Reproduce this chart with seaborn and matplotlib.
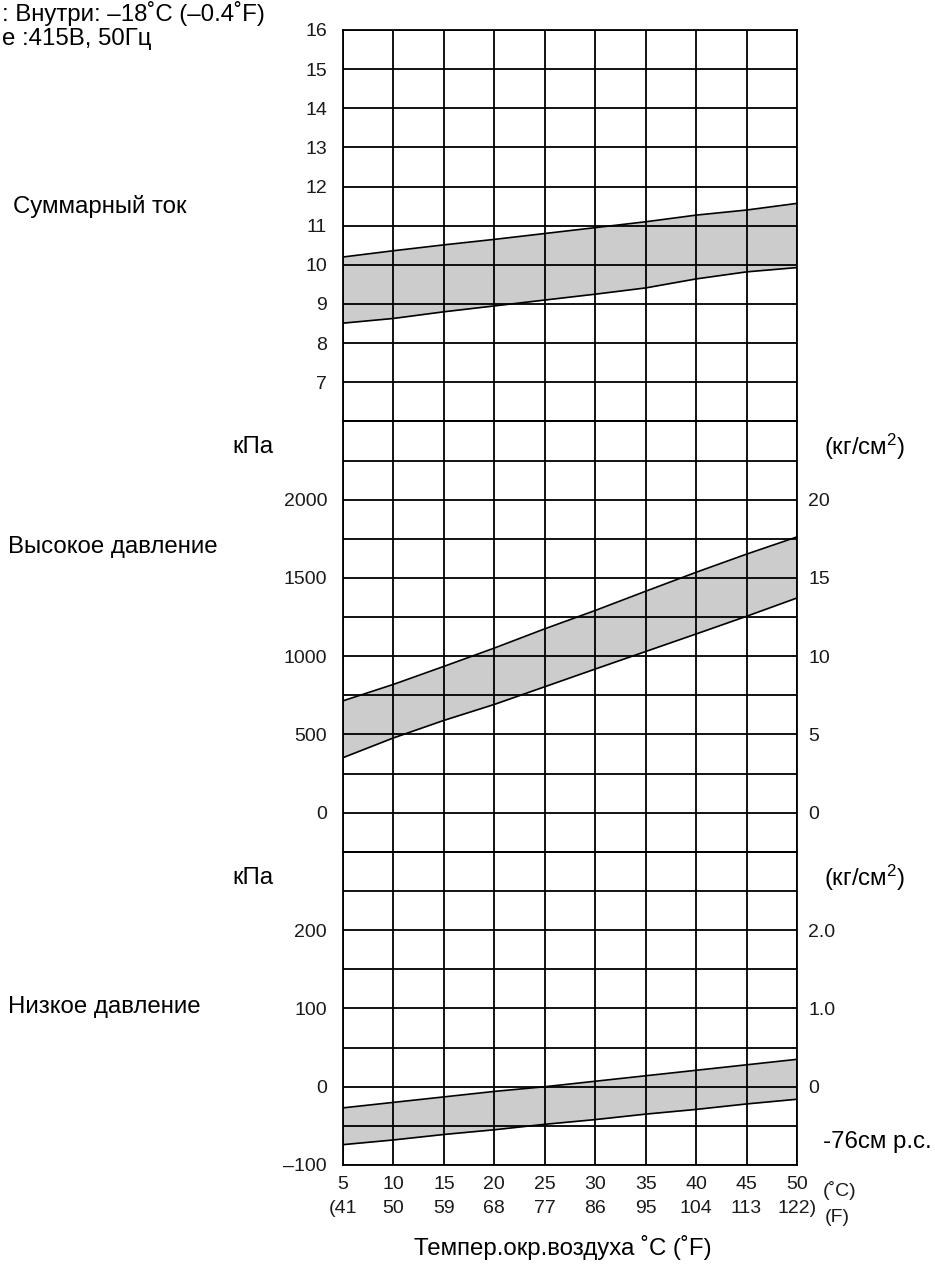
import numpy as np
import pandas as pd
import matplotlib
matplotlib.use("Agg")
import matplotlib.pyplot as plt
import seaborn as sns

# ---------------- data ----------------
temp_c = [5, 10, 15, 20, 25, 30, 35, 40, 45, 50]
temp_f = [41, 50, 59, 68, 77, 86, 95, 104, 113, 122]

current_upper = [10.2, 10.36, 10.51, 10.65, 10.8, 10.95, 11.1, 11.27, 11.4, 11.57]
current_lower = [8.51, 8.63, 8.8, 8.95, 9.1, 9.25, 9.41, 9.64, 9.82, 9.93]

hp_upper = [715, 820, 935, 1052, 1175, 1292, 1415, 1536, 1652, 1762]
hp_lower = [352, 478, 590, 692, 805, 918, 1030, 1142, 1255, 1372]

lp_upper = [-27, -20, -13, -6, 0, 7, 14, 21, 28, 35]
lp_lower = [-74, -68, -61, -55, -48, -42, -35, -29, -22, -16]

current_ticks = [7, 8, 9, 10, 11, 12, 13, 14, 15, 16]
hp_kpa_ticks = [0, 500, 1000, 1500, 2000]
hp_kgcm_labels = ["0", "5", "10", "15", "20"]
lp_kpa_ticks = [-100, 0, 100, 200]
lp_kpa_labels = ["\u2013100", "0", "100", "200"]
lp_kgcm_ticks = [0, 100, 200]
lp_kgcm_labels = ["0", "1.0", "2.0"]

title_lines = [": Внутри: \u201318\u02daC (\u20130.4\u02daF)", "е :415В, 50Гц"]
row_labels = ["Суммарный ток", "Высокое давление", "Низкое давление"]
xlabel_text = "Темпер.окр.воздуха \u02daC (\u02daF)"

# ---------------- style ----------------
sns.set_style("white")
plt.rcParams["font.family"] = ["Liberation Sans", "DejaVu Sans"]
plt.rcParams["mathtext.fontset"] = "custom"
plt.rcParams["mathtext.rm"] = "Liberation Sans"
plt.rcParams["mathtext.it"] = "Liberation Sans"

W, H = 935, 1266
fig = plt.figure(figsize=(W / 100, H / 100), dpi=100)
gs = fig.add_gridspec(3, 1, height_ratios=[10, 11, 8], hspace=0,
                      left=343 / W, right=797 / W, top=1 - 30 / H, bottom=1 - 1165 / H)
ax1 = fig.add_subplot(gs[0])
ax2 = fig.add_subplot(gs[1], sharex=ax1)
ax3 = fig.add_subplot(gs[2], sharex=ax1)

GRID_LW = 1.3
TICK_FS = 14
LABEL_FS = 17.3
TXT = "#1a1a1a"
FILL = "#cccccc"

def style_axis(ax, ylim, grid_step, label_map):
    ax.set_xlim(5, 50)
    ax.set_ylim(*ylim)
    pos = np.arange(ylim[0], ylim[1] + grid_step / 2, grid_step)
    ax.set_yticks(pos, labels=[label_map.get(round(float(p), 3), "") for p in pos])
    ax.set_xticks(temp_c)
    ax.grid(True, color="black", lw=GRID_LW)
    ax.set_axisbelow(False)
    for s in ax.spines.values():
        s.set_visible(True)
        s.set_color("black")
        s.set_linewidth(GRID_LW)
    ax.tick_params(axis="y", length=0, pad=11.5, labelsize=TICK_FS, labelcolor=TXT)
    ax.tick_params(axis="x", length=0)
    ax.set_xlabel("")
    ax.set_ylabel("")

def band(ax, upper, lower):
    ax.fill_between(temp_c, lower, upper, color=FILL, lw=0, zorder=1)
    sns.lineplot(x=temp_c, y=upper, ax=ax, color="black", lw=1.2, zorder=2)
    sns.lineplot(x=temp_c, y=lower, ax=ax, color="black", lw=1.2, zorder=2)

band(ax1, current_upper, current_lower)
band(ax2, hp_upper, hp_lower)
band(ax3, lp_upper, lp_lower)

style_axis(ax1, (6, 16), 1, {float(v): str(v) for v in current_ticks})
style_axis(ax2, (-250, 2500), 250, {float(v): str(v) for v in hp_kpa_ticks})
style_axis(ax3, (-100, 300), 50, {float(v): l for v, l in zip(lp_kpa_ticks, lp_kpa_labels)})

for ax in (ax1, ax2):
    ax.tick_params(axis="x", labelbottom=False)

ax3.set_xticks(temp_c, labels=[
    ("%d\n(%d" % (c, f)) if i == 0 else
    ("%d\n%d)" % (c, f)) if i == len(temp_c) - 1 else
    ("%d\n%d" % (c, f)) for i, (c, f) in enumerate(zip(temp_c, temp_f))])
ax3.tick_params(axis="x", pad=8, labelsize=TICK_FS, labelcolor=TXT)
for t in ax3.get_xticklabels():
    t.set_linespacing(1.5)

# right-hand kg/cm2 axes
r2 = ax2.twinx()
r2.set_ylim(ax2.get_ylim())
r2.set_yticks(hp_kpa_ticks, labels=hp_kgcm_labels)
r3 = ax3.twinx()
r3.set_ylim(ax3.get_ylim())
r3.set_yticks(lp_kgcm_ticks, labels=lp_kgcm_labels)
for r in (r2, r3):
    r.grid(False)
    r.tick_params(axis="y", length=0, pad=8, labelsize=TICK_FS, labelcolor=TXT)
    for s in r.spines.values():
        s.set_visible(False)

# ---------------- texts ----------------
def ftext(x, y, s, **kw):
    kw.setdefault("fontsize", LABEL_FS)
    kw.setdefault("color", "black")
    fig.text(x / W, 1 - y / H, s, **kw)

ftext(2, 13, title_lines[0], ha="left", va="center")
ftext(2, 39, title_lines[1], ha="left", va="center")
ftext(13, 207, row_labels[0], ha="left", va="center")
ftext(8, 547, row_labels[1], ha="left", va="center")
ftext(8, 1007, row_labels[2], ha="left", va="center")

for yy in (447, 878):
    ftext(232, yy, "кПа", ha="left", va="center")
    ftext(824, yy, "(кг/см$^2$)", ha="left", va="center")

ftext(823, 1142, "-76см р.с.", ha="left", va="center")
ftext(823, 1191, "(\u02daC)", ha="left", va="center", fontsize=TICK_FS, color=TXT)
ftext(825, 1218, "(F)", ha="left", va="center", fontsize=TICK_FS, color=TXT)
ftext(563, 1247, xlabel_text, ha="center", va="center")

fig.savefig("out.png", dpi=100)
